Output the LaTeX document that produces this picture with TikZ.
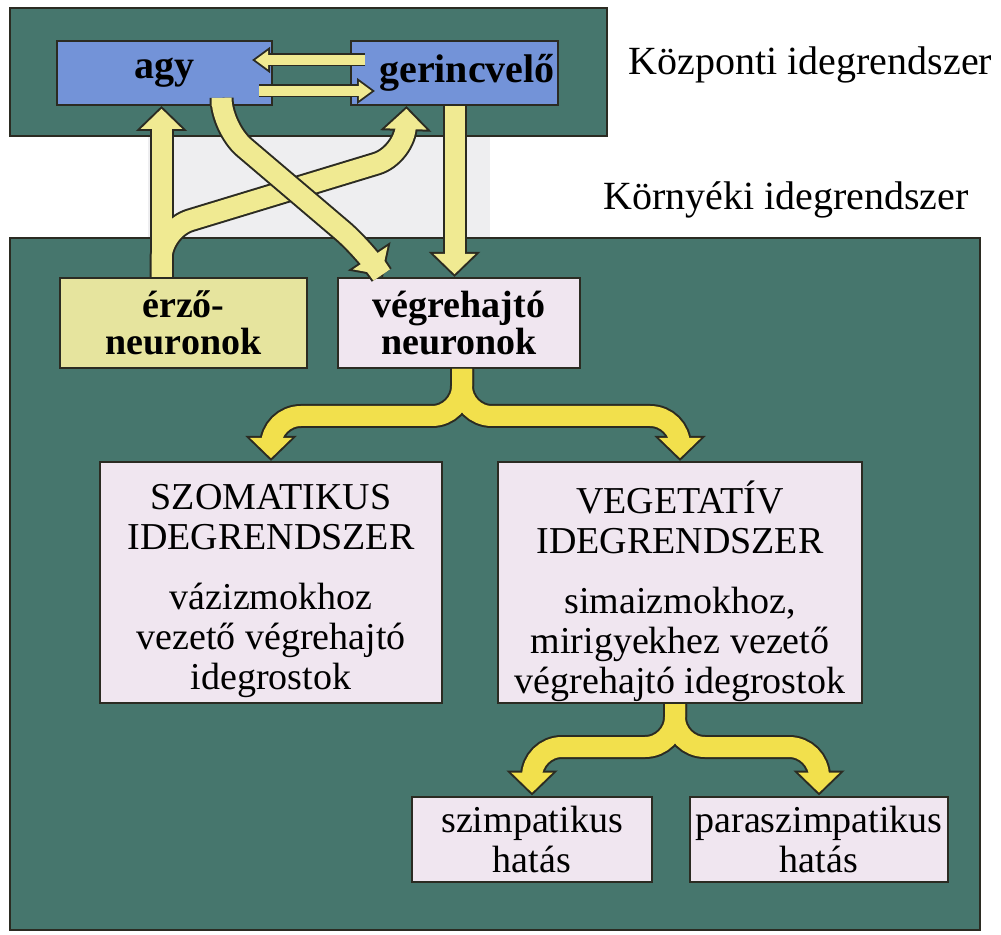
\documentclass[tikz,border=0pt]{standalone}
\usepackage{fontspec}
\setmainfont{Liberation Serif}
\usetikzlibrary{arrows.meta, calc}

\definecolor{nervegreen}{HTML}{46766D}
\definecolor{cnsblue}{HTML}{7393D8}
\definecolor{sensyellow}{HTML}{E6E49E}
\definecolor{lilac}{HTML}{F0E6F0}
\definecolor{paleyellow}{HTML}{F0EA92}
\definecolor{deepyellow}{HTML}{F2E04C}
\definecolor{flowedge}{HTML}{2B2B22}
\definecolor{gapgrey}{HTML}{EEEEF0}

\newcommand\capsline{\fontsize{19}{21}\selectfont}
\newcommand\bodyline{\fontsize{19}{20}\selectfont}

\tikzset{
  panel/.style={draw=flowedge, line width=0.8pt, fill=nervegreen},
  box/.style={draw=flowedge, line width=1pt, inner sep=0pt, align=center},
  cns/.style={box, fill=cnsblue, font=\fontsize{20}{22}\selectfont\bfseries},
  neuron/.style={box, font=\fontsize{19}{18.5}\selectfont\bfseries},
  sysbox/.style={box, fill=lilac, font=\bodyline},
  effect/.style={box, fill=lilac, font=\fontsize{19}{20}\selectfont},
  sidelabel/.style={font=\fontsize{20}{22}\selectfont, inner sep=0pt, anchor=base},
  flow/.style={rounded corners=15pt},
}

\begin{document}
\begin{tikzpicture}[x=0.5pt, y=-0.5pt]
  \useasboundingbox (0,0) rectangle (1001,935);

  % panels
  \draw[panel] (10,8) rectangle (607,136);
  \draw[panel] (10,238) rectangle (980,930);
  \fill[gapgrey] (148,137) rectangle (490,237);
  \node[sidelabel] (kozp) at (810.5,75) {Központi idegrendszer};
  \node[sidelabel] (kornyek) at (786,210) {Környéki idegrendszer};

  % boxes
  \node[cns, minimum width=107.5pt, minimum height=32pt] (agy) at (164.5,73) {agy};
  \node[cns, minimum width=103.5pt, minimum height=32pt] (gerinc) at (454.5,73) {\hspace*{12.5pt}gerincvelő};
  \node[neuron, fill=sensyellow, minimum width=123.5pt, minimum height=45pt] (erzo) at (183.5,323) {érző-\\neuronok};
  \node[neuron, fill=lilac, minimum width=121pt, minimum height=45pt] (vegre) at (459,323) {végrehajtó\\neuronok};
  \node[sysbox, minimum width=171pt, minimum height=120.5pt] (szom) at (271,582.5)
    {\capsline\rule{0pt}{21pt}SZOMATIKUS\\\capsline IDEGRENDSZER\\[10pt]vázizmokhoz\\vezető végrehajtó\\idegrostok};
  \node[sysbox, minimum width=182pt, minimum height=120.5pt] (veget) at (680,582.5)
    {\capsline\rule{0pt}{25pt}VEGETATÍV\\\capsline IDEGRENDSZER\\[10pt]simaizmokhoz,\\mirigyekhez vezető\\végrehajtó idegrostok};
  \node[effect, minimum width=120pt, minimum height=42.5pt] (szimp) at (532,839) {szimpatikus\\hatás};
  \node[effect, minimum width=129pt, minimum height=42.5pt] (para) at (819,839) {paraszimpatikus\\hatás};

  \coordinate (erzoup) at ($(erzo.north)+(-22,0)$);
  \coordinate (agydown) at ($(agy.south)+(57,0)$);
  \coordinate (gerdown) at (gerinc.south);
  \coordinate (vegdown) at ($(vegre.south)+(3,0)$);
  \coordinate (vegetdown) at ($(veget.south)+(-5,0)$);

  % agy <-> gerincvelo
  \foreach \lw/\hw/\hl/\sh/\col in {6.5pt/12.5pt/9pt/0pt/flowedge, 4.7pt/9pt/6.5pt/1.6pt/paleyellow}{
    \draw[line width=\lw, draw=\col, -{Triangle[width=\hw, length=\hl]}, shorten >=\sh]
      ($(gerinc.west)+(15,-13)$) -- ($(agy.east)+(-21,-13)$);
    \draw[line width=\lw, draw=\col, -{Triangle[width=\hw, length=\hl]}, shorten >=\sh]
      ($(agy.east)+(-14,18)$) -- ($(gerinc.west)+(25,18)$);
  }
  % dark edge first, yellow on top
  \foreach \lw/\hw/\hl/\sh/\col in {12pt/25pt/12.5pt/0pt/flowedge, 10pt/20.2pt/10.1pt/1.4pt/paleyellow}{
    \draw[flow, line width=\lw, draw=\col, -{Triangle[width=\hw, length=\hl]}, shorten >=\sh]
      (erzoup) -- ++(0,-48) -- (405,155) -- ($(gerinc.south)+(-48,0)$);
    \draw[line width=\lw, draw=\col, -{Triangle[width=\hw, length=\hl]}, shorten >=\sh]
      (erzoup) -- (erzoup |- agy.south);
    \draw[line width=\lw, draw=\col, -{Triangle[width=\hw, length=\hl]}, shorten >=\sh]
      (gerdown) -- (gerdown |- vegre.north);
  }
  \foreach \lw/\hw/\hl/\sh/\col in {12pt/25pt/12.5pt/0pt/flowedge, 10pt/20.2pt/10.1pt/1.4pt/paleyellow}{
    \draw[flow, line width=\lw, draw=\col, -{Triangle[width=\hw, length=\hl]}, shorten >=\sh]
      (agydown) -- ++(0,22) -- (365,250) -- ($(vegre.north)+(-76,0)$);
  }
  \foreach \lw/\hw/\hl/\sh/\col in {12pt/25pt/12.5pt/0pt/flowedge, 10pt/20.2pt/10.1pt/1.4pt/deepyellow}{
    \draw[flow, line width=\lw, draw=\col, -{Triangle[width=\hw, length=\hl]}, shorten >=\sh]
      (vegdown) -- ++(0,47) -| (szom.north);
    \draw[flow, line width=\lw, draw=\col, -{Triangle[width=\hw, length=\hl]}, shorten >=\sh]
      (vegdown) -- ++(0,47) -| (veget.north);
    \draw[flow, line width=\lw, draw=\col, -{Triangle[width=\hw, length=\hl]}, shorten >=\sh]
      (vegetdown) -- ++(0,43) -| (szimp.north);
    \draw[flow, line width=\lw, draw=\col, -{Triangle[width=\hw, length=\hl]}, shorten >=\sh]
      (vegetdown) -- ++(0,43) -| (para.north);
  }
\end{tikzpicture}
\end{document}
